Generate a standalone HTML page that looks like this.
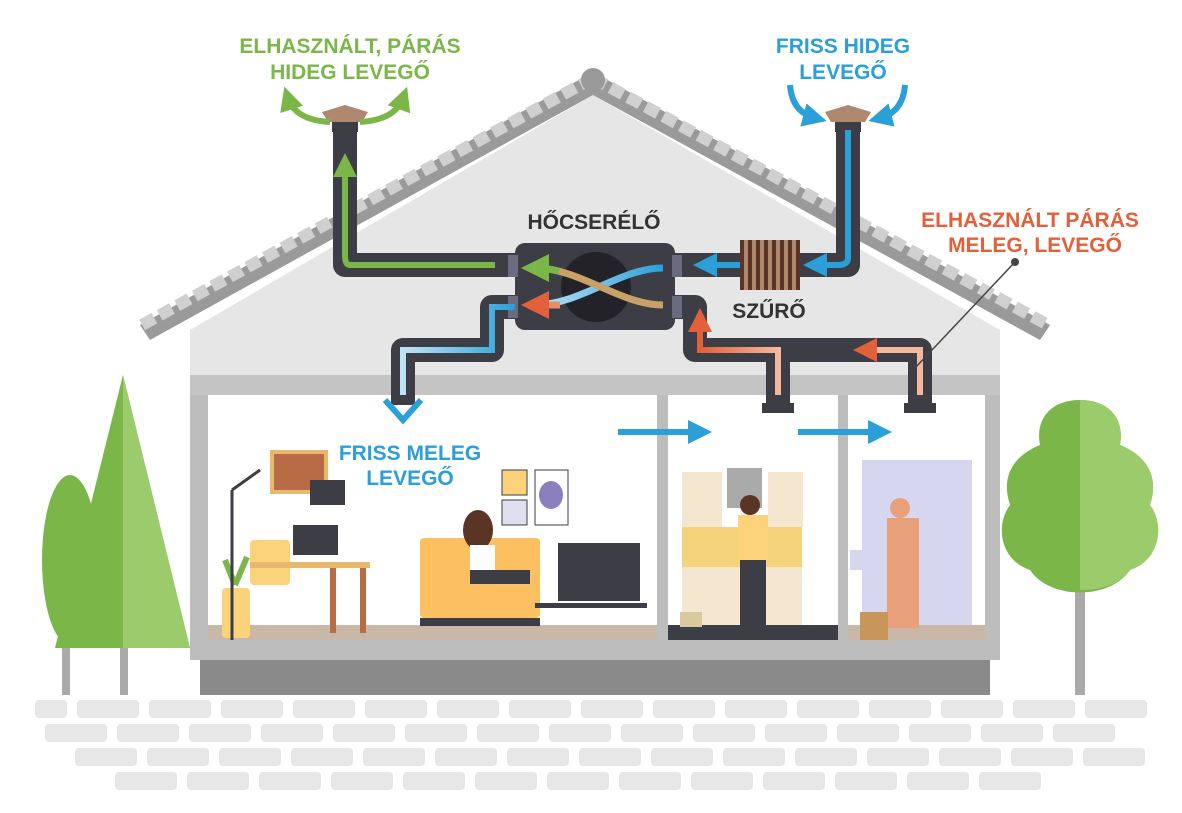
<!DOCTYPE html>
<html><head><meta charset="utf-8"><style>
html,body{margin:0;padding:0;background:#fff;}
svg{display:block;}
text{font-family:"Liberation Sans",sans-serif;font-weight:bold;}
</style></head><body>
<svg width="1182" height="813" viewBox="0 0 1182 813" xmlns="http://www.w3.org/2000/svg">
<defs>
<marker id="ag" markerWidth="4" markerHeight="4" refX="2" refY="2" orient="auto"><path d="M0,0 L4,2 L0,4z" fill="#7ab648"/></marker>
<marker id="ab" markerWidth="4" markerHeight="4" refX="2" refY="2" orient="auto"><path d="M0,0 L4,2 L0,4z" fill="#2a9fd8"/></marker>
<marker id="ao" markerWidth="4" markerHeight="4" refX="2" refY="2" orient="auto"><path d="M0,0 L4,2 L0,4z" fill="#e2603a"/></marker>
<linearGradient id="bg1" x1="0" x2="1"><stop offset="0" stop-color="#bfe3f7"/><stop offset="1" stop-color="#2a9fd8"/></linearGradient>
<linearGradient id="og1" x1="0" x2="1"><stop offset="0" stop-color="#e2603a"/><stop offset="1" stop-color="#f5b89c"/></linearGradient>
</defs>
<!-- bricks -->
<g fill="#e7e7e7">
<rect x="35" y="700" width="32" height="18" rx="4"/>
<g id="r1"><rect x="77" y="700" width="62" height="18" rx="4"/><rect x="149" y="700" width="62" height="18" rx="4"/><rect x="221" y="700" width="62" height="18" rx="4"/><rect x="293" y="700" width="62" height="18" rx="4"/><rect x="365" y="700" width="62" height="18" rx="4"/><rect x="437" y="700" width="62" height="18" rx="4"/><rect x="509" y="700" width="62" height="18" rx="4"/><rect x="581" y="700" width="62" height="18" rx="4"/><rect x="653" y="700" width="62" height="18" rx="4"/><rect x="725" y="700" width="62" height="18" rx="4"/><rect x="797" y="700" width="62" height="18" rx="4"/><rect x="869" y="700" width="62" height="18" rx="4"/><rect x="941" y="700" width="62" height="18" rx="4"/><rect x="1013" y="700" width="62" height="18" rx="4"/><rect x="1085" y="700" width="62" height="18" rx="4"/></g>
<use href="#r1" x="-32" y="24"/>
<use href="#r1" x="-2" y="48"/>
<g transform="translate(38,72)">
<rect x="77" y="700" width="62" height="18" rx="4"/><rect x="149" y="700" width="62" height="18" rx="4"/><rect x="221" y="700" width="62" height="18" rx="4"/><rect x="293" y="700" width="62" height="18" rx="4"/><rect x="365" y="700" width="62" height="18" rx="4"/><rect x="437" y="700" width="62" height="18" rx="4"/><rect x="509" y="700" width="62" height="18" rx="4"/><rect x="581" y="700" width="62" height="18" rx="4"/><rect x="653" y="700" width="62" height="18" rx="4"/><rect x="725" y="700" width="62" height="18" rx="4"/><rect x="797" y="700" width="62" height="18" rx="4"/><rect x="869" y="700" width="62" height="18" rx="4"/><rect x="941" y="700" width="62" height="18" rx="4"/>
</g>
</g>
<!-- trees -->
<rect x="62" y="630" width="8" height="65" fill="#aaa"/><rect x="120" y="630" width="8" height="65" fill="#aaa"/>
<ellipse cx="70" cy="560" rx="28" ry="85" fill="#7ab648"/>
<polygon points="123,375 55,648 190,648" fill="#7ab648"/>
<polygon points="123,375 123,648 190,648" fill="#9ccb6c"/>
<rect x="1075" y="580" width="10" height="115" fill="#aaa"/>
<path d="M1080,400 c-30,0 -45,20 -40,45 c-25,10 -40,30 -30,60 c-15,20 -10,55 20,65 c20,30 80,30 100,0 c30,-10 35,-45 20,-65 c10,-30 -5,-50 -30,-60 c5,-25 -10,-45 -40,-45z" fill="#7ab648"/>
<path d="M1080,400 c30,0 45,20 40,45 c25,10 40,30 30,60 c15,20 10,55 -20,65 c-10,15 -30,20 -50,20z" fill="#9ccb6c"/>
<!-- house base -->
<rect x="200" y="650" width="790" height="45" fill="#8a8a8a"/>
<rect x="190" y="330" width="810" height="330" fill="#bdbdbd"/>
<!-- roof gable -->
<polygon points="593,95 190,330 190,375 1000,375 1000,330" fill="#e6e6e6"/>
<rect x="190" y="375" width="810" height="20" fill="#c4c4c4"/>
<!-- roof -->
<path d="M593,72 L140,325 L150,340 L593,95 L1040,340 L1050,325 Z" fill="#9a9a9a"/>
<path d="M593,78 L140,326 M593,78 L1050,326" stroke="#d0d0d0" stroke-width="12" stroke-dasharray="14 6" fill="none"/>
<circle cx="593" cy="80" r="12" fill="#9a9a9a"/>
<!-- rooms -->
<rect x="208" y="395" width="449" height="245" fill="#fff"/>
<rect x="668" y="395" width="170" height="245" fill="#fff"/>
<rect x="848" y="395" width="137" height="245" fill="#fff"/>
<rect x="208" y="625" width="449" height="15" fill="#c9b7a8"/>
<rect x="668" y="625" width="170" height="15" fill="#3d3d45"/>
<rect x="848" y="625" width="137" height="15" fill="#c9b7a8"/>
<rect x="190" y="640" width="810" height="20" fill="#bdbdbd"/>
<!-- room furniture (simplified) -->
<rect x="272" y="452" width="54" height="40" fill="#b86c46" stroke="#e8b86d" stroke-width="4"/>
<rect x="310" y="480" width="35" height="25" fill="#3d3d45"/>
<rect x="293" y="525" width="45" height="30" fill="#3d3d45"/>
<rect x="250" y="540" width="40" height="45" fill="#fcd27a" rx="4"/>
<rect x="250" y="562" width="120" height="6" fill="#e8b86d"/>
<rect x="330" y="568" width="6" height="65" fill="#b86c46"/><rect x="360" y="568" width="6" height="65" fill="#b86c46"/>
<rect x="222" y="588" width="28" height="50" fill="#fcd27a" rx="4"/>
<path d="M235,585 l-10,-25 M235,585 l12,-28" stroke="#7ab648" stroke-width="6"/>
<path d="M232,490 L232,640 M232,490 L260,470" stroke="#3d3d45" stroke-width="3"/>
<rect x="502" y="470" width="25" height="25" fill="#fcd27a" stroke="#3d3d45"/>
<rect x="502" y="500" width="25" height="25" fill="#e0dfef" stroke="#3d3d45"/>
<rect x="535" y="470" width="33" height="55" fill="#fff" stroke="#3d3d45"/>
<ellipse cx="551" cy="495" rx="12" ry="14" fill="#8c7fc0"/>
<rect x="420" y="538" width="120" height="80" fill="#fcc060" rx="4"/>
<rect x="420" y="618" width="120" height="8" fill="#3d3d45"/>
<ellipse cx="478" cy="530" rx="15" ry="20" fill="#5a3525"/>
<rect x="470" y="545" width="25" height="35" fill="#fff"/>
<rect x="470" y="570" width="60" height="14" fill="#3d3d45"/>
<rect x="558" y="543" width="82" height="58" fill="#3d3d45"/>
<rect x="535" y="603" width="112" height="5" fill="#3d3d45"/>
<!-- kitchen -->
<rect x="682" y="472" width="40" height="55" fill="#f5e6d0"/>
<rect x="727" y="468" width="35" height="40" fill="#aaa"/>
<rect x="768" y="472" width="35" height="55" fill="#f5e6d0"/>
<rect x="682" y="527" width="120" height="40" fill="#f5d37a"/>
<rect x="682" y="567" width="120" height="58" fill="#f5e6d0"/>
<circle cx="750" cy="505" r="10" fill="#5a3525"/>
<rect x="738" y="515" width="30" height="45" fill="#fcd27a"/>
<rect x="740" y="560" width="26" height="70" fill="#3d3d45"/>
<rect x="680" y="612" width="22" height="15" fill="#d9c9a0"/>
<!-- bath -->
<rect x="862" y="460" width="110" height="165" fill="#d6d7ef"/>
<rect x="850" y="550" width="120" height="20" fill="#d6d7ef"/>
<circle cx="900" cy="508" r="10" fill="#e8a07a"/>
<rect x="887" y="518" width="32" height="110" fill="#e8a07a"/>
<rect x="860" y="612" width="28" height="28" fill="#c8965a"/>
<!-- ducts -->
<g fill="none" stroke="#3d3d45" stroke-width="24" stroke-linejoin="round">
<path d="M345,125 L345,265 L520,265"/>
<path d="M848,125 L848,265 L670,265"/>
<path d="M520,307 L492,307 L492,350 L403,350 L403,405"/>
<path d="M670,307 L695,307 L695,350 L920,350 L920,405"/>
<path d="M778,350 L778,405"/>
</g>
<rect x="762" y="403" width="32" height="10" fill="#3d3d45"/>
<rect x="904" y="403" width="32" height="10" fill="#3d3d45"/>
<!-- caps -->
<polygon points="328,122 362,122 368,112 345,105 322,112" fill="#b08870"/>
<rect x="332" y="122" width="26" height="10" fill="#3d3d45"/>
<polygon points="831,122 865,122 871,112 848,105 825,112" fill="#b08870"/>
<rect x="835" y="122" width="26" height="10" fill="#3d3d45"/>
<!-- exchanger -->
<rect x="515" y="243" width="160" height="87" rx="10" fill="#3d3d45"/>
<rect x="508" y="255" width="10" height="22" fill="#6b6b80"/><rect x="508" y="296" width="10" height="22" fill="#6b6b80"/>
<rect x="672" y="255" width="10" height="22" fill="#6b6b80"/><rect x="672" y="296" width="10" height="22" fill="#6b6b80"/>
<circle cx="596" cy="287" r="35" fill="#222228"/>
<path d="M663,268 C620,268 580,305 535,305" stroke="url(#bg1)" stroke-width="7" fill="none"/>
<path d="M663,305 C620,305 580,268 535,268" stroke="#c8a068" stroke-width="7" fill="none" marker-end="url(#ag)"/>
<path d="M663,305 C620,305 580,268 535,268" stroke="#7ab648" stroke-width="7" fill="none" stroke-dasharray="60 200" stroke-dashoffset="-110"/>
<path d="M560,305 L535,305" stroke="#e2906a" stroke-width="7" marker-end="url(#ao)"/>
<!-- filter -->
<rect x="740" y="240" width="60" height="50" fill="#5a3525"/>
<g stroke="#b08870" stroke-width="4"><path d="M746,240v50M754,240v50M762,240v50M770,240v50M778,240v50M786,240v50M794,240v50"/></g>
<!-- flows -->
<g fill="none" stroke-width="6">
<path d="M345,255 L345,165" stroke="#7ab648" marker-end="url(#ag)"/>
<path d="M495,265 L350,265 Q345,265 345,255" stroke="#7ab648"/>
<path d="M848,130 L848,258 Q848,265 838,265 L815,265" stroke="#2a9fd8" marker-end="url(#ab)"/>
<path d="M740,265 L705,265" stroke="#2a9fd8" marker-end="url(#ab)"/>
<path d="M515,307 L492,307 L492,350 L403,350 L403,395" stroke="url(#bg1)"/>
<path d="M920,395 L920,350 L865,350" stroke="#f5b89c" marker-end="url(#ao)"/>
<path d="M778,395 L778,350 L700,350 L700,320" stroke="url(#og1)" marker-end="url(#ao)"/>
<path d="M618,432 L700,432" stroke="#2a9fd8" marker-end="url(#ab)"/>
<path d="M798,432 L880,432" stroke="#2a9fd8" marker-end="url(#ab)"/>
<path d="M330,122 Q295,120 288,98" stroke="#7ab648" marker-end="url(#ag)"/>
<path d="M360,122 Q395,120 403,98" stroke="#7ab648" marker-end="url(#ag)"/>
<path d="M790,85 Q792,112 815,118" stroke="#2a9fd8" marker-end="url(#ab)"/>
<path d="M905,85 Q903,112 880,118" stroke="#2a9fd8" marker-end="url(#ab)"/>
</g>
<path d="M385,400 L403,420 L421,400" fill="none" stroke="#2a9fd8" stroke-width="6"/>
<line x1="1015" y1="262" x2="915" y2="368" stroke="#444" stroke-width="1.5"/>
<circle cx="1015" cy="262" r="4" fill="#444"/>
<!-- labels -->
<g font-size="21" text-anchor="middle">
<text x="350" y="53" fill="#7ab648">ELHASZNÁLT, PÁRÁS</text>
<text x="350" y="79" fill="#7ab648">HIDEG LEVEGŐ</text>
<text x="843" y="53" fill="#2a9fd8">FRISS HIDEG</text>
<text x="843" y="79" fill="#2a9fd8">LEVEGŐ</text>
<text x="1030" y="227" fill="#e2603a">ELHASZNÁLT PÁRÁS</text>
<text x="1035" y="252" fill="#e2603a">MELEG, LEVEGŐ</text>
<text x="410" y="460" fill="#2a9fd8">FRISS MELEG</text>
<text x="410" y="485" fill="#2a9fd8">LEVEGŐ</text>
<text x="594" y="229" fill="#333">HŐCSERÉLŐ</text>
<text x="769" y="318" fill="#333">SZŰRŐ</text>
</g>
</svg>
</body></html>
